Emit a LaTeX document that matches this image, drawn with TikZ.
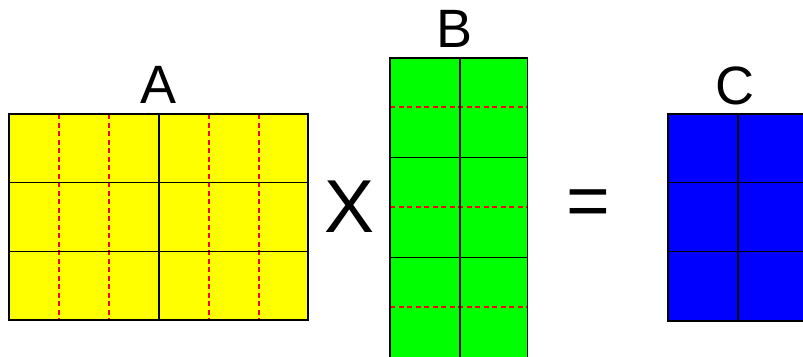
\documentclass[tikz,border=0pt]{standalone}
\usepackage{fontspec}
\setmainfont{Liberation Sans}
\usepackage{tikz}
\usetikzlibrary{positioning}

\definecolor{matA}{RGB}{255,255,0}
\definecolor{matB}{RGB}{0,255,0}
\definecolor{matC}{RGB}{0,0,255}
\definecolor{subred}{RGB}{255,0,0}

\tikzset{
  cellline/.style={line width=1.4pt, black},
  subline/.style={line width=1.2pt, subred, dash pattern=on 5pt off 3.5pt},
  matlabel/.style={inner sep=0pt, font=\fontsize{54}{60}\selectfont},
  oplabel/.style={inner sep=0pt, font=\fontsize{75}{80}\selectfont}
}

\begin{document}
\begin{tikzpicture}[x=1pt, y=-1pt]
  \useasboundingbox (0,0) rectangle (803,356);
  % Matrix A (3 x 2 blocks, each split in three)
  \fill[matA] (9,114) rectangle (308,320);
  \foreach \x in {59,109,209,259}
    \draw[subline] (\x,114) -- (\x,320);
  \draw[cellline] (9,114) rectangle (308,320);
  \draw[cellline] (159,114) -- (159,320);
  \draw[cellline] (9,182.5) -- (308,182.5);
  \draw[cellline] (9,251.3) -- (308,251.3);
  \node[matlabel] (labA) at (159,85) {A};
  % Times sign
  \node[oplabel] (times) at (350,207) {X};
  % Matrix B (3 x 2 blocks, each split in two)
  \fill[matB] (390,58) rectangle (527.5,370);
  \foreach \y in {107,207,307}
    \draw[subline] (390,\y) -- (527.5,\y);
  \draw[cellline] (390,370) -- (390,58) -- (527.5,58) -- (527.5,370);
  \draw[cellline] (460,58) -- (460,370);
  \draw[cellline] (390,157.5) -- (527.5,157.5);
  \draw[cellline] (390,257.5) -- (527.5,257.5);
  \node[matlabel] (labB) at (455,29) {B};
  % Equals sign
  \node[oplabel] (equals) at (588,208) {=};
  % Matrix C (result)
  \fill[matC] (668,114) rectangle (808,321);
  \draw[cellline] (668,114) rectangle (808,321);
  \draw[cellline] (738,114) -- (738,321);
  \draw[cellline] (668,182.5) -- (808,182.5);
  \draw[cellline] (668,251.5) -- (808,251.5);
  \node[matlabel] (labC) at (735,85.5) {C};
\end{tikzpicture}
\end{document}
